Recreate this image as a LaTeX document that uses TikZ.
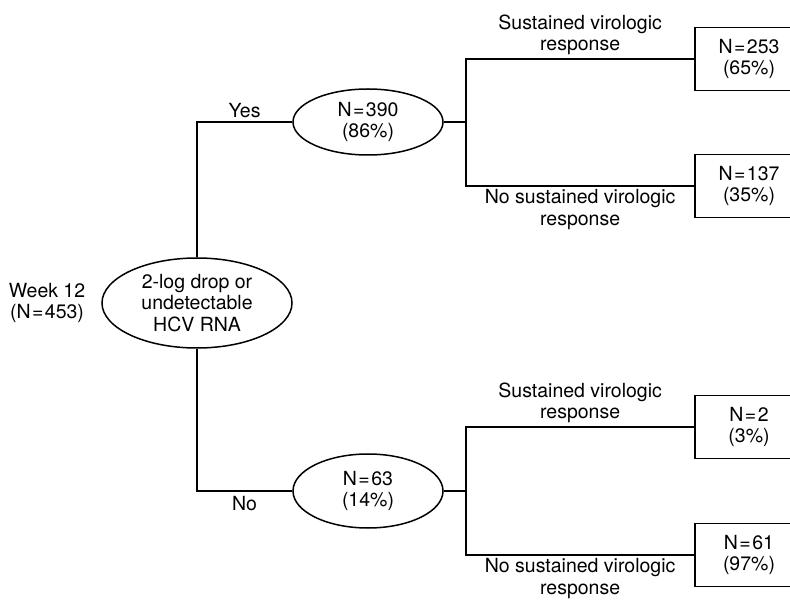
\documentclass[tikz,border=0pt]{standalone}
\usepackage{fontspec}
\setmainfont{TeX Gyre Heros}
\usetikzlibrary{shapes.geometric}
\newcommand{\Neq}[1]{N\kern1.5pt=\kern1.5pt#1}

\begin{document}
\begin{tikzpicture}[
    x=1pt, y=-1pt,
    font=\fontsize{19.5}{21.5}\selectfont,
    oval/.style={ellipse, draw, line width=1.5pt, inner sep=0pt, align=center},
    outcome/.style={rectangle, draw, line width=1.5pt, minimum width=108pt, minimum height=63pt, inner sep=0pt, align=center},
    branch/.style={draw, line width=1.5pt},
    lbl/.style={align=center, inner sep=3pt}
]
    \clip (0,0) rectangle (790,601);
    \node (week) [lbl] at (47,303) {Week 12\\(\Neq{453})};
    \node (root) [oval, minimum width=190pt, minimum height=90pt] at (197,303) {2-log drop or\\undetectable\\HCV RNA};
    \node (yes) [oval, minimum width=150pt, minimum height=66pt] at (368,122) {\Neq{390}\\(86\%)};
    \node (no) [oval, minimum width=150pt, minimum height=74pt] at (368,491) {\Neq{63}\\(14\%)};

    \node (yesSvr) [outcome] at (749,59) {\Neq{253}\\(65\%)};
    \node (yesNsvr) [outcome] at (749,186) {\Neq{137}\\(35\%)};
    \node (noSvr) [outcome] at (749,427) {\Neq{2}\\(3\%)};
    \node (noNsvr) [outcome] at (749,555) {\Neq{61}\\(97\%)};

    \coordinate (yesFork) at (466,122);
    \coordinate (noFork) at (466,491);

    % week 12 split
    \draw[branch] (root.north) |- node[pos=0.75, above, lbl] {Yes} (yes.west);
    \draw[branch] (root.south) |- node[pos=0.75, below, lbl, yshift=-2pt] {No} (no.west);

    % responders
    \draw[branch] (yes.east) -- (yesFork);
    \draw[branch] (yesFork) |- node[pos=0.75, above, lbl] {Sustained virologic\\response} (yesSvr.west);
    \draw[branch] (yesFork) |- node[pos=0.75, below, lbl] {No sustained virologic\\response} (yesNsvr.west);

    % non-responders
    \draw[branch] (no.east) -- (noFork);
    \draw[branch] (noFork) |- node[pos=0.75, above, lbl] {Sustained virologic\\response} (noSvr.west);
    \draw[branch] (noFork) |- node[pos=0.75, below, lbl] {No sustained virologic\\response} (noNsvr.west);
\end{tikzpicture}
\end{document}
